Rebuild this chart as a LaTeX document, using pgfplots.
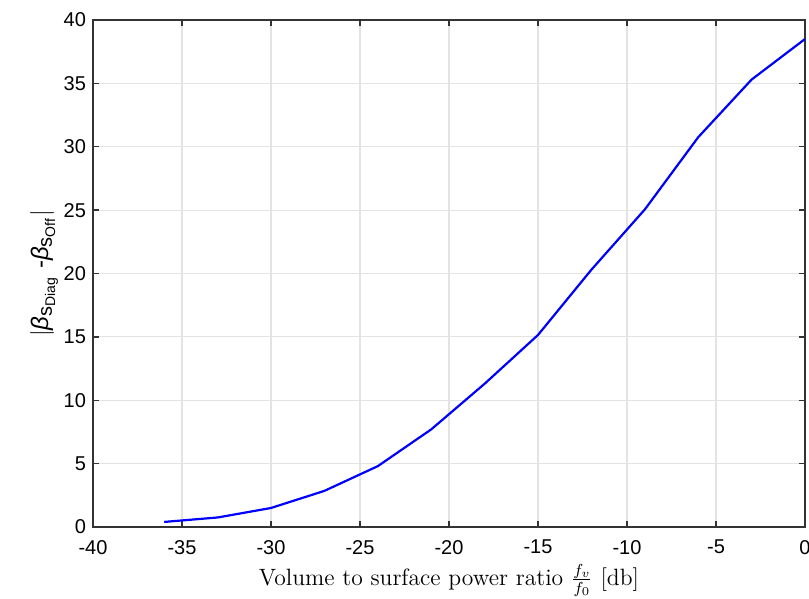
\documentclass[border=0pt]{standalone}
\usepackage{fontspec}
\usepackage{pgfplots}
\pgfplotsset{compat=1.18}
\newfontfamily\helv{Liberation Sans}
\begin{document}
\begin{tikzpicture}
\begin{axis}[
  name=a,
  scale only axis,
  width=356pt, height=253.5pt,
  xmin=-40, xmax=0, ymin=0, ymax=40,
  xtick={-40,-35,...,0}, ytick={0,5,...,40},
  grid=major,
  major grid style={draw=gray!22, line width=0.6pt},
  axis line style={line width=0.7pt, draw=black!80},
  tick style={line width=0.7pt, draw=black!80},
  major tick length=3pt,
  tick align=inside,
  xtick pos=both, ytick pos=both,
  /pgf/number format/assume math mode=true,
  ticklabel style={font=\helv\fontsize{10}{12}\selectfont},
  xticklabel style={yshift=-3pt},
  xlabel={Volume to surface power ratio $\frac{f_v}{f_0}$ [db]},
  ylabel={\helv\fontsize{12}{14}\selectfont $|$\textit{β}\textsubscript{\fontsize{10}{12}\selectfont s\textsubscript{Diag}} -\textit{β}\textsubscript{\fontsize{10}{12}\selectfont s\textsubscript{Off}}$|$},
  xlabel style={font=\fontsize{11.8}{14}\selectfont, yshift=2pt},
  ylabel style={yshift=-4pt},
]
\addplot[blue, line width=1.1pt] coordinates {
(-36,0.4) (-33,0.75) (-30,1.5) (-27,2.85) (-24,4.8) (-21,7.7) (-18,11.3) (-15,15.15) (-12,20.3) (-9,25.05) (-6,30.75) (-3,35.3) (0,38.5)
};
\end{axis}
\pgfresetboundingbox
\path[use as bounding box] ([shift={(-46.5pt,-36pt)}]a.south west) rectangle ([shift={(2pt,10pt)}]a.north east);
\end{tikzpicture}
\end{document}
